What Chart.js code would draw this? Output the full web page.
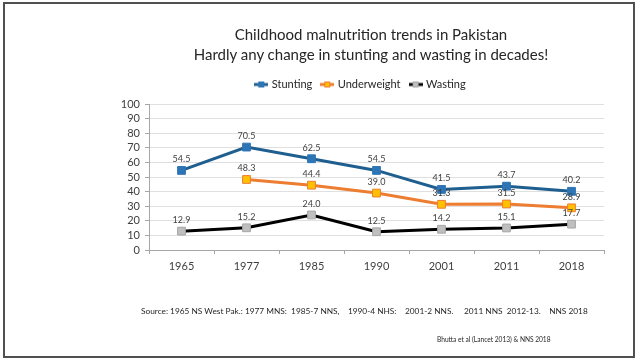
<!DOCTYPE html>
<html>
<head>
<meta charset="utf-8">
<script src="https://cdn.jsdelivr.net/npm/chart.js@4"></script>
<style>
  html, body { margin: 0; padding: 0; background: #fff; }
  #wrap { position: relative; width: 640px; height: 360px; font-family: Lato, sans-serif; }
  #frame { position: absolute; left: 3px; top: 2px; width: 632px; height: 356px; box-sizing: border-box; border: 2px solid #505050; }
  #chart { position: absolute; left: 0; top: 0; }
  .txt { position: absolute; white-space: pre; color: #262626; }
  #title { left: 171px; width: 400px; top: 24px; text-align: center; font-size: 15px; line-height: 20px; }
  #source { left: 141px; top: 306px; font-size: 8.3px; }
  #cite { left: 437px; top: 335px; font-size: 6.6px; }
</style>
</head>
<body>
<div id="wrap">
  <div id="frame"></div>
  <canvas id="chart" width="640" height="360"></canvas>
  <div id="title" class="txt">Childhood malnutrition trends in Pakistan
Hardly any change in stunting and wasting in decades!</div>
  <div id="source" class="txt">Source: 1965 NS West Pak.: 1977 MNS:  1985-7 NNS,    1990-4 NHS:    2001-2 NNS.     2011 NNS  2012-13.    NNS 2018</div>
  <div id="cite" class="txt">Bhutta et al (Lancet 2013) &amp; NNS 2018</div>
</div>
<script>
const years = ['1965', '1977', '1985', '1990', '2001', '2011', '2018'];
const stunting = [54.5, 70.5, 62.5, 54.5, 41.5, 43.7, 40.2];
const underweight = [null, 48.3, 44.4, 39.0, 31.3, 31.5, 28.9];
const wasting = [12.9, 15.2, 24.0, 12.5, 14.2, 15.1, 17.7];

// legend icon: short line with a square marker on it
function legendIcon(lineColor, fill, border) {
    const c = document.createElement('canvas');
    c.width = 14; c.height = 8;
    const g = c.getContext('2d');
    g.strokeStyle = lineColor;
    g.lineWidth = 3;
    g.beginPath(); g.moveTo(0, 4); g.lineTo(14, 4); g.stroke();
    g.fillStyle = fill;
    g.fillRect(4, 1, 6, 6);
    g.strokeStyle = border;
    g.lineWidth = 1;
    g.strokeRect(4.5, 1.5, 5, 5);
    return c;
}

const valueLabels = {
    id: 'valueLabels',
    afterDatasetsDraw(chart) {
        const ctx = chart.ctx;
        ctx.save();
        ctx.font = '9px Lato';
        ctx.fillStyle = '#404040';
        ctx.textAlign = 'center';
        ctx.textBaseline = 'middle';
        chart.data.datasets.forEach((ds, i) => {
            chart.getDatasetMeta(i).data.forEach((pt, j) => {
                const v = ds.data[j];
                if (v === null || v === undefined) return;
                ctx.fillText(v.toFixed(1), pt.x, pt.y - 11);
            });
        });
        ctx.restore();
    }
};

// extra room under the legend, before the plot starts
const legendGap = {
    id: 'legendGap',
    beforeLayout(chart) {
        const lg = chart.legend;
        if (!lg || lg._gapPatched) return;
        const fit = lg.fit.bind(lg);
        lg.fit = function () { fit(); this.height += 4; };
        lg._gapPatched = true;
    }
};

const series = [
    { label: 'Stunting', data: stunting, line: '#1f5f8f', fill: '#2e75b6', border: '#2e75b6' },
    { label: 'Underweight', data: underweight, line: '#ed7d31', fill: '#ffc000', border: '#ed7d31' },
    { label: 'Wasting', data: wasting, line: '#000000', fill: '#bfbfbf', border: '#a6a6a6' }
];

new Chart(document.getElementById('chart'), {
    type: 'line',
    data: {
        labels: years,
        datasets: series.map(s => ({
            label: s.label,
            data: s.data,
            borderColor: s.line,
            backgroundColor: s.fill,
            pointBackgroundColor: s.fill,
            pointBorderColor: s.border,
            pointBorderWidth: 1,
            pointStyle: 'rect',
            pointRadius: 5.5,
            borderWidth: 3,
            tension: 0,
            icon: legendIcon(s.line, s.fill, s.border)
        }))
    },
    options: {
        responsive: false,
        animation: false,
        layout: { padding: { left: 118, right: 36, top: 69, bottom: 80 } },
        plugins: {
            tooltip: { enabled: false },
            legend: {
                labels: {
                    usePointStyle: true,
                    pointStyleWidth: 10,
                    padding: 10,
                    color: '#262626',
                    font: { family: 'Lato', size: 11 },
                    generateLabels(chart) {
                        return chart.data.datasets.map((ds, i) => ({
                            text: ds.label,
                            pointStyle: ds.icon,
                            fillStyle: ds.backgroundColor,
                            strokeStyle: ds.borderColor,
                            lineWidth: 0,
                            fontColor: '#262626',
                            datasetIndex: i,
                            hidden: false
                        }));
                    }
                }
            }
        },
        scales: {
            x: {
                offset: true,
                grid: { display: true, drawOnChartArea: false, offset: true, color: '#a6a6a6', tickLength: 4 },
                border: { color: '#a6a6a6' },
                ticks: { color: '#404040', font: { family: 'Lato', size: 11 }, padding: 6 },
                afterFit(s) { s.height = 30; }
            },
            y: {
                min: 0,
                max: 100,
                ticks: { stepSize: 10, autoSkip: false, color: '#404040', font: { family: 'Lato', size: 11 }, padding: 5 },
                grid: { color: '#e0e0e0', tickLength: 4, tickColor: '#a6a6a6' },
                border: { color: '#a6a6a6' },
                afterFit(s) { s.width = 31; }
            }
        }
    },
    plugins: [valueLabels, legendGap]
});
</script>
</body>
</html>
